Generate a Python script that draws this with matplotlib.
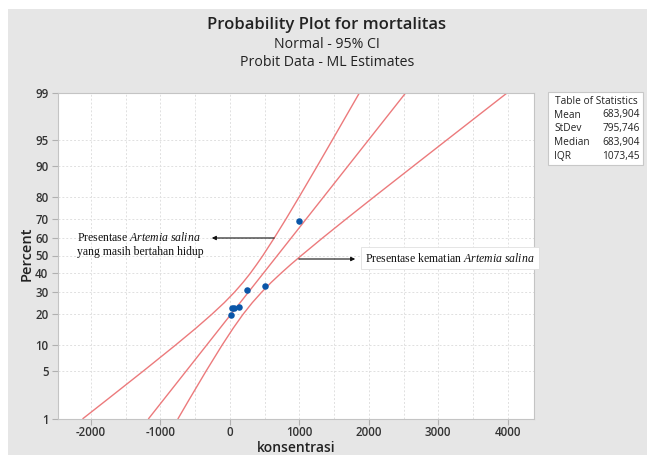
import numpy as np
import matplotlib
matplotlib.use('Agg')
import matplotlib.pyplot as plt
from matplotlib.patches import Rectangle
from statistics import NormalDist

plt.rcParams['axes.unicode_minus'] = False
plt.rcParams['mathtext.fontset'] = 'custom'
plt.rcParams['mathtext.rm'] = 'Liberation Serif'
plt.rcParams['mathtext.it'] = 'Liberation Serif:italic'

# probit data (concentration vs % mortality)
konsentrasi = [1000, 500, 250, 125, 62.5, 31.25, 15.625]
percent = [69.0, 33.2, 31.0, 23.3, 22.6, 22.6, 19.8]

# table of statistics
mean = 683.904
stdev = 795.746
median = 683.904
iqr = 1073.45

# 95% CI band
band_pct = [1, 2, 5, 10, 15, 20, 25, 30, 35, 40, 45, 50, 60, 70, 80, 90, 95, 99]
band_lower = [-2112, -1762, -1240, -785, -487, -262, -81, 66, 189, 295, 388, 476,
              641, 810, 1001, 1261, 1473, 1868]
band_upper = [-744, -584, -339, -113, 49, 188, 322, 457, 594, 736, 880, 1029,
              1338, 1678, 2082, 2648, 3117, 3998]

yticks = [1, 5, 10, 20, 30, 40, 50, 60, 70, 80, 90, 95, 99]
xticks = [-2000, -1000, 0, 1000, 2000, 3000, 4000]

nd = NormalDist()
def zz(p):
    return [nd.inv_cdf(v / 100.0) for v in p]

W, H = 647, 455
def fy(y):
    return 1 - y / H

fig = plt.figure(figsize=(W / 100, H / 100), dpi=100)
fig.patch.set_facecolor('white')
fig.add_artist(Rectangle((8 / W, 0), 1, 1 - 9 / H, transform=fig.transFigure,
                         facecolor='#e6e6e6', edgecolor='none', zorder=0))

ax = fig.add_axes([57.5 / W, (H - 418.5) / H, 476 / W, 326 / H])
ax.set_facecolor('white')

red = '#ec7a7c'
fit_p = [1, 99]
fit_x = [mean + stdev * v for v in zz(fit_p)]
ax.plot(fit_x, zz(fit_p), color=red, lw=1.0)
ax.plot(band_lower, zz(band_pct), color=red, lw=1.0)
ax.plot(band_upper, zz(band_pct), color=red, lw=1.0)
ax.scatter(konsentrasi, zz(percent), s=22, color='#0a56a8', zorder=5, linewidths=0)

ax.set_xlim(-2480, 4370)
ax.set_ylim(nd.inv_cdf(0.01), nd.inv_cdf(0.99))
ax.set_yticks(zz(yticks))
ax.set_yticklabels([str(v) for v in yticks])
ax.set_xticks(xticks)
ax.set_xticks(np.arange(-2000, 4001, 500), minor=True)
ax.tick_params(axis='both', which='major', labelsize=8.3, colors='#b0b0b0',
               labelcolor='#333333', length=4, width=0.8, pad=2.5)
ax.tick_params(axis='x', which='major', pad=1.5)
ax.tick_params(axis='x', which='minor', length=0)
for lab in ax.get_xticklabels() + ax.get_yticklabels():
    lab.set_family('Open Sans')
    lab.set_fontweight('semibold')
ax.grid(True, which='both', color='#e0e0e0', linestyle=(0, (2, 2)), lw=0.7)
ax.set_axisbelow(True)
for s in ax.spines.values():
    s.set_color('#c4c4c4')

fig.text(296 / W, fy(452), 'konsentrasi', ha='center', va='baseline', fontsize=10,
         family='Open Sans', fontweight='semibold', color='#222222')
fig.text(27 / W, fy(254), 'Percent', ha='center', va='center', rotation=90, fontsize=10.5,
         family='Open Sans', fontweight='semibold', color='#222222')

fig.text(327 / W, fy(25), 'Probability Plot for mortalitas', ha='center', va='center',
         fontsize=12, family='Open Sans', fontweight='semibold', color='#222222')
fig.text(327 / W, fy(45), 'Normal - 95% CI', ha='center', va='center',
         fontsize=10.2, family='Open Sans', color='#222222')
fig.text(327 / W, fy(63), 'Probit Data - ML Estimates', ha='center', va='center',
         fontsize=10.2, family='Open Sans', color='#222222')

# table of statistics box
fig.add_artist(Rectangle((548 / W, fy(165)), 95 / W, 73 / H, transform=fig.transFigure,
                         facecolor='white', edgecolor='#c8c8c8', lw=0.8))
fig.text(596 / W, fy(101), 'Table of Statistics', ha='center', va='center',
         fontsize=7.3, family='Open Sans', color='#222222')
rows = [('Mean', '683,904'), ('StDev', '795,746'), ('Median', '683,904'), ('IQR', '1073,45')]
for i, (k, v) in enumerate(rows):
    y = fy(115 + i * 13.7)
    fig.text(554 / W, y, k, ha='left', va='center', fontsize=7.3, family='Open Sans', color='#222222')
    fig.text(640 / W, y, v, ha='right', va='center', fontsize=7.3, family='Open Sans', color='#222222')

# annotations
fig.text(77 / W, fy(237), r'Presentase $\mathit{Artemia\ salina}$', ha='left', va='center',
         fontsize=8.5, family='Liberation Serif', color='#111111')
fig.text(77 / W, fy(252), 'yang masih bertahan hidup', ha='left', va='center',
         fontsize=8.5, family='Liberation Serif', color='#111111')
fig.text(365 / W, fy(258), r'Presentase kematian $\mathit{Artemia\ salina}$', ha='left', va='center',
         fontsize=8.5, family='Liberation Serif', color='#111111',
         bbox=dict(facecolor='white', edgecolor='#e0e0e0', lw=0.6, pad=3))
ax.annotate('', xy=(209, H - 238), xytext=(277, H - 238), xycoords='figure pixels',
            textcoords='figure pixels',
            arrowprops=dict(arrowstyle='-|>', color='#111111', lw=0.8, mutation_scale=6))
ax.annotate('', xy=(358, H - 259), xytext=(296, H - 259), xycoords='figure pixels',
            textcoords='figure pixels',
            arrowprops=dict(arrowstyle='-|>', color='#111111', lw=0.8, mutation_scale=6))

fig.savefig('out.png', dpi=100)
